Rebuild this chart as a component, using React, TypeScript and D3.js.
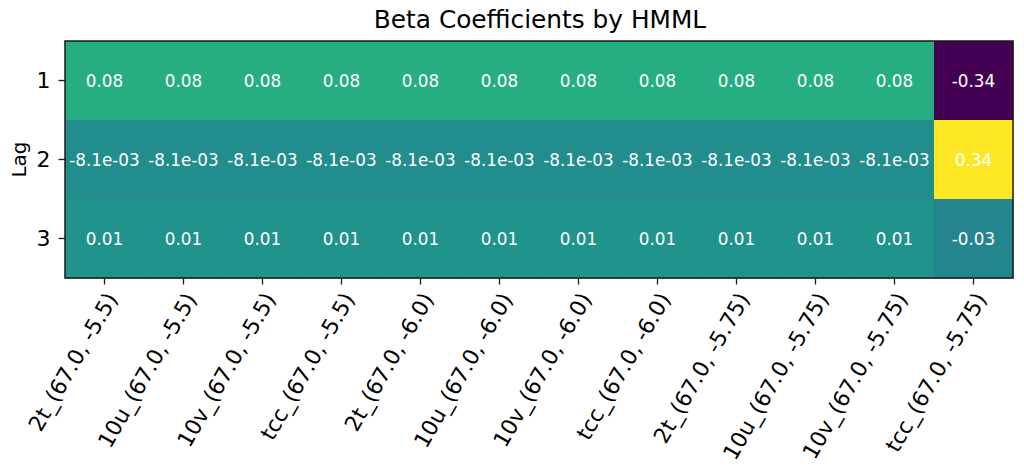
import React from "react";
import * as d3 from "d3";

const columns = [
  "2t_(67.0, -5.5)",
  "10u_(67.0, -5.5)",
  "10v_(67.0, -5.5)",
  "tcc_(67.0, -5.5)",
  "2t_(67.0, -6.0)",
  "10u_(67.0, -6.0)",
  "10v_(67.0, -6.0)",
  "tcc_(67.0, -6.0)",
  "2t_(67.0, -5.75)",
  "10u_(67.0, -5.75)",
  "10v_(67.0, -5.75)",
  "tcc_(67.0, -5.75)",
];
const lags = ["1", "2", "3"];
const lag1 = [0.08, 0.08, 0.08, 0.08, 0.08, 0.08, 0.08, 0.08, 0.08, 0.08, 0.08, -0.34];
const lag2 = [-0.0081, -0.0081, -0.0081, -0.0081, -0.0081, -0.0081, -0.0081, -0.0081, -0.0081, -0.0081, -0.0081, 0.34];
const lag3 = [0.01, 0.01, 0.01, 0.01, 0.01, 0.01, 0.01, 0.01, 0.01, 0.01, 0.01, -0.03];
const lagLabels1 = ["0.08", "0.08", "0.08", "0.08", "0.08", "0.08", "0.08", "0.08", "0.08", "0.08", "0.08", "-0.34"];
const lagLabels2 = ["-8.1e-03", "-8.1e-03", "-8.1e-03", "-8.1e-03", "-8.1e-03", "-8.1e-03", "-8.1e-03", "-8.1e-03", "-8.1e-03", "-8.1e-03", "-8.1e-03", "0.34"];
const lagLabels3 = ["0.01", "0.01", "0.01", "0.01", "0.01", "0.01", "0.01", "0.01", "0.01", "0.01", "0.01", "-0.03"];

const rows = [lag1, lag2, lag3];
const rowLabels = [lagLabels1, lagLabels2, lagLabels3];

const W = 1024;
const H = 466;
const left = 65;
const right = 1013;
const top = 41;
const bottom = 278;
const font = "DejaVu Sans, sans-serif";

export default function App() {
  const x = d3.scaleBand<string>().domain(columns).range([left, right]);
  const y = d3.scaleBand<string>().domain(lags).range([top, bottom]);
  const all = rows.flat();
  const vmin = d3.min(all) as number;
  const vmax = d3.max(all) as number;
  const color = d3.scaleSequential(d3.interpolateViridis).domain([vmin, vmax]);
  const tickLen = 6.5;

  return (
    <svg
      width={W}
      height={H}
      style={{ position: "absolute", left: 0, top: 0, background: "#fff" }}
      fontFamily={font}
    >
      <rect x={0} y={0} width={W} height={H} fill="#fff" />
      {rows.map((r, ri) =>
        r.map((v, ci) => (
          <rect
            key={`c${ri}-${ci}`}
            x={x(columns[ci])}
            y={y(lags[ri])}
            width={x.bandwidth() + 0.5}
            height={y.bandwidth() + 0.5}
            fill={color(v)}
          />
        ))
      )}
      {rows.map((r, ri) =>
        r.map((v, ci) => (
          <text
            key={`t${ri}-${ci}`}
            x={(x(columns[ci]) as number) + x.bandwidth() / 2}
            y={(y(lags[ri]) as number) + y.bandwidth() / 2}
            textAnchor="middle"
            dominantBaseline="central"
            fill="#fff"
            fontSize={16.8}
          >
            {rowLabels[ri][ci]}
          </text>
        ))
      )}
      <rect
        x={left}
        y={top}
        width={right - left}
        height={bottom - top}
        fill="none"
        stroke="#1a1a1a"
        strokeWidth={1.5}
      />
      {lags.map((l) => {
        const cy = (y(l) as number) + y.bandwidth() / 2;
        return (
          <g key={`yl${l}`}>
            <line x1={left - tickLen} x2={left} y1={cy} y2={cy} stroke="#1a1a1a" strokeWidth={1.3} />
            <text x={left - tickLen - 8} y={cy} textAnchor="end" dominantBaseline="central" fontSize={22} fill="#000">
              {l}
            </text>
          </g>
        );
      })}
      {columns.map((c) => {
        const cx = (x(c) as number) + x.bandwidth() / 2;
        const ty = bottom + tickLen + 6;
        return (
          <g key={`xl${c}`}>
            <line x1={cx} x2={cx} y1={bottom} y2={bottom + tickLen} stroke="#1a1a1a" strokeWidth={1.3} />
            <text
              transform={`translate(${cx},${ty}) rotate(-60)`}
              textAnchor="end"
              dominantBaseline="hanging"
              fontSize={21.8}
              fill="#000"
            >
              {c}
            </text>
          </g>
        );
      })}
      <text
        transform={`translate(${26},${(top + bottom) / 2}) rotate(-90)`}
        textAnchor="middle"
        fontSize={20}
        fill="#000"
      >
        Lag
      </text>
      <text x={(left + right) / 2 + 1} y={28} textAnchor="middle" fontSize={24.8} fill="#000">
        Beta Coefficients by HMML
      </text>
    </svg>
  );
}
